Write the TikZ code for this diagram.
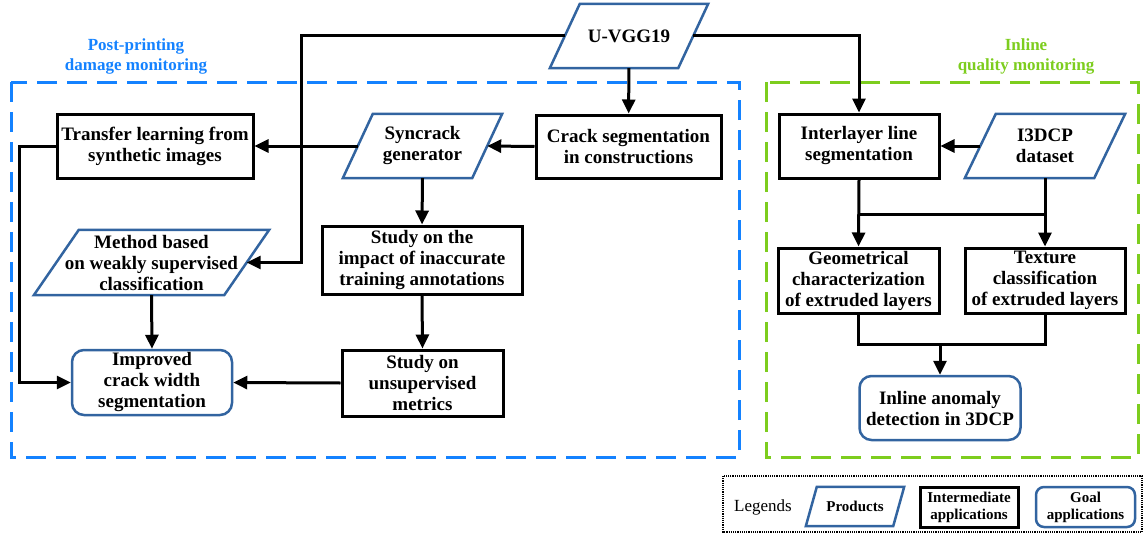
\documentclass[tikz,border=0pt]{standalone}
\usepackage{fontspec}
\setmainfont{Liberation Serif}
\usetikzlibrary{arrows.meta,calc}

\definecolor{prodblue}{RGB}{50,100,160}
\definecolor{zoneblue}{RGB}{20,130,255}
\definecolor{zonegreen}{RGB}{125,205,30}

\tikzset{
  base/.style={inner sep=0pt, align=center, font=\fontsize{19}{21}\selectfont\bfseries},
  interbox/.style={base, draw=black, line width=3pt},
  goalbox/.style={base, draw=prodblue, line width=2.5pt, rounded corners=12pt},
  prodbox/.style={base},
  zonelabel/.style={inner sep=0pt, align=center, font=\fontsize{17}{20}\selectfont\bfseries},
  conn/.style={line width=3pt, draw=black},
  arr/.style={conn, -{Triangle[length=14pt,width=13pt]}},
  zone/.style={line width=3pt, dash pattern=on 20pt off 10pt},
  legendtxt/.style={font=\fontsize{15}{17}\selectfont\bfseries},
}

% parallelogram outline around a rectangular node: #2 node, #3 half slant
\newcommand\slantframe[3][2.5pt]{%
  \draw[prodblue, line width=#1, line join=miter]
    ([xshift=#3]#2.north west) -- ([xshift=#3]#2.north east)
    -- ([xshift=-#3]#2.south east) -- ([xshift=-#3]#2.south west) -- cycle;}

\begin{document}
\begin{tikzpicture}[x=1pt, y=-1pt]
\useasboundingbox (0,0) rectangle (1143,535);

% zones
\draw[zone, zoneblue] (11,82) rectangle (739,457);
\draw[zone, zonegreen] (766,82) rectangle (1138,457);
\node[zonelabel, text=zoneblue] (lblpost) at (136,56) {Post-printing\\damage monitoring};
\node[zonelabel, text=zonegreen] (lblinline) at (1026,56) {Inline\\quality monitoring};

% nodes
\node[prodbox, minimum width=128pt, minimum height=64pt] (vgg) at (629,36) {U-VGG19};
\node[interbox, minimum width=196pt, minimum height=64pt] (transfer) at (155,146) {Transfer learning from\\synthetic images};
\node[prodbox, minimum width=129pt, minimum height=64pt] (syn) at (422.5,146) {Syncrack\\generator};
\node[interbox, minimum width=185pt, minimum height=63pt] (crack) at (628.5,146.5) {Crack segmentation\\in constructions};
\node[interbox, minimum width=160pt, minimum height=64pt] (inter) at (859,146) {Interlayer line\\segmentation};
\node[prodbox, minimum width=129pt, minimum height=64pt] (i3dcp) at (1045,146) {I3DCP\\dataset};
\node[prodbox, minimum width=190pt, minimum height=65pt] (method) at (151.5,262.5) {Method based\\on weakly supervised\\classification};
\node[interbox, minimum width=200pt, minimum height=68pt] (impact) at (422,260) {Study on the\\impact of inaccurate\\training annotations};
\node[interbox, minimum width=161pt, minimum height=65pt] (geo) at (858.5,280.5) {Geometrical\\characterization\\of extruded layers};
\node[interbox, minimum width=160pt, minimum height=65pt] (tex) at (1045,280.5) {Texture\\classification\\of extruded layers};
\node[interbox, minimum width=161pt, minimum height=66pt] (unsup) at (422.5,383) {Study on\\unsupervised\\metrics};
\node[goalbox, minimum width=160pt, minimum height=65pt] (improved) at (152,382.5) {Improved\\crack width\\segmentation};
\node[goalbox, minimum width=161pt, minimum height=64pt] (anomaly) at (940,408) {Inline anomaly\\detection in 3DCP};

\slantframe{vgg}{15pt}
\slantframe{syn}{15pt}
\slantframe{i3dcp}{15.5pt}
\slantframe{method}{22.5pt}

% routing points
\coordinate (railL) at (19,260);
\coordinate (railM) at (301,150);
\coordinate (merge) at (940,344);

% connectors
\draw[arr] (vgg) -- (crack);
\draw[arr] (vgg.west) -| (railM) |- (method.east);
\draw[arr] (vgg.east) -| (inter.north);
\draw[arr] (crack.west) -- (syn.east);
\draw[arr] (syn.west) -- (transfer.east);
\draw[arr] (syn.south) -- (impact.north);
\draw[arr] (impact.south) -- (unsup.north);
\draw[arr] (unsup.west) -- (improved.east);
\draw[arr] (method.south) -- (improved.north);
\draw[arr] (transfer.west) -| (railL) |- (improved.west);
\draw[arr] (i3dcp.west) -- (inter.east);
\draw[arr] (inter.south) -- (geo.north);
\draw[arr] (i3dcp.south) -- (tex.north);
\draw[conn] (inter.south) ++(0,35) coordinate (split) -- (split -| i3dcp.south);
\draw[conn] (geo.south) |- (merge) -| (tex.south);
\draw[arr] (merge) -- (anomaly.north);

% legend
\draw[line width=1.2pt, densely dotted] (723,476) rectangle (1142,532);
\node[font=\fontsize{17}{20}\selectfont] (lgtitle) at (763,507) {Legends};
\node[prodbox, legendtxt, minimum width=87pt, minimum height=39pt] (lprod) at (855,506.5) {Products};
\slantframe{lprod}{5.5pt}
\node[interbox, legendtxt, minimum width=98pt, minimum height=40pt] (linter) at (969,507) {Intermediate\\applications};
\node[goalbox, legendtxt, rounded corners=8pt, minimum width=99pt, minimum height=40pt] (lgoal) at (1085.5,507) {Goal\\applications};
\end{tikzpicture}
\end{document}
